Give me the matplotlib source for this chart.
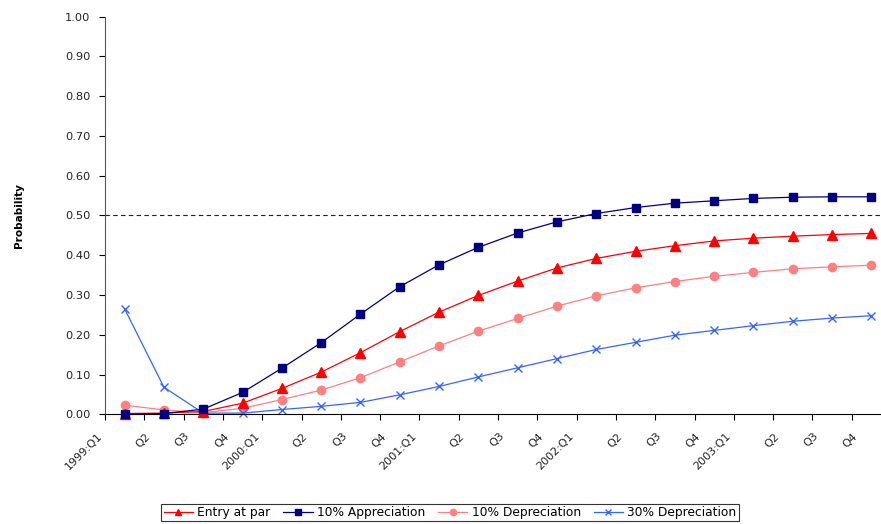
import matplotlib
matplotlib.use('Agg')
import matplotlib.pyplot as plt
from matplotlib.ticker import FormatStrFormatter
from matplotlib.transforms import ScaledTranslation

plt.rcParams['font.family'] = ['DejaVu Sans']

quarters = ['1999:Q1', 'Q2', 'Q3', 'Q4',
            '2000:Q1', 'Q2', 'Q3', 'Q4',
            '2001:Q1', 'Q2', 'Q3', 'Q4',
            '2002:Q1', 'Q2', 'Q3', 'Q4',
            '2003:Q1', 'Q2', 'Q3', 'Q4']

entry_par = [0.002, 0.003, 0.007, 0.028, 0.065, 0.106, 0.155, 0.208, 0.257, 0.299,
             0.335, 0.368, 0.392, 0.410, 0.424, 0.436, 0.443, 0.448, 0.452, 0.455]
apprec_10 = [0.000, 0.002, 0.013, 0.055, 0.116, 0.180, 0.252, 0.321, 0.376, 0.420,
             0.456, 0.484, 0.505, 0.520, 0.531, 0.537, 0.543, 0.546, 0.547, 0.547]
deprec_10 = [0.023, 0.011, 0.004, 0.015, 0.037, 0.061, 0.092, 0.132, 0.172, 0.209,
             0.241, 0.272, 0.298, 0.318, 0.334, 0.347, 0.357, 0.366, 0.371, 0.375]
deprec_30 = [0.265, 0.068, 0.003, 0.003, 0.012, 0.020, 0.030, 0.049, 0.070, 0.094,
             0.117, 0.140, 0.163, 0.181, 0.199, 0.211, 0.223, 0.234, 0.242, 0.248]

threshold = 0.50

x = list(range(len(quarters)))

fig = plt.figure(figsize=(8.81, 5.24), dpi=100)
# axes runs a bit past the right edge, like the original export
ax = fig.add_axes([105/881, 109.7/524, 786/881, 397.6/524])

ax.axhline(threshold, color='#222222', lw=0.8, ls=(0, (4, 3)), zorder=1)

ax.plot(x, entry_par, color='#FF0000', lw=0.9, marker='^', ms=6.5, clip_on=False,
        label='Entry at par', zorder=3)
ax.plot(x, apprec_10, color='#000080', lw=0.9, marker='s', ms=6, clip_on=False,
        label='10% Appreciation', zorder=4)
ax.plot(x, deprec_10, color='#FF8080', lw=0.9, marker='o', ms=6, clip_on=False,
        label='10% Depreciation', zorder=2)
ax.plot(x, deprec_30, color='#3366FF', lw=0.9, marker='x', ms=6, mew=1,
        clip_on=False, label='30% Depreciation', zorder=2)

ax.set_xlim(-0.5, 19.5)
ax.set_ylim(0, 1)
ax.set_yticks([i / 10 for i in range(11)])
ax.yaxis.set_major_formatter(FormatStrFormatter('%.2f'))

ax.set_xticks([i - 0.5 for i in x])
ax.set_xticklabels(quarters, rotation=45, ha='right', va='top')

for s in ['top', 'right']:
    ax.spines[s].set_visible(False)
ax.spines['left'].set_color('#555555')
ax.spines['bottom'].set_color('black')

ax.tick_params(axis='y', direction='out', length=4, width=0.8, pad=6.5,
               labelsize=8.2, labelcolor='#222222')
ax.tick_params(axis='x', direction='out', length=4, width=0.8, pad=8,
               labelsize=8, labelcolor='#222222')

for lab, txt in zip(ax.get_xticklabels(), quarters):
    dx = -1 if ':' in txt else 8
    lab.set_transform(lab.get_transform() +
                      ScaledTranslation(dx / 100, 0, fig.dpi_scale_trans))

ax.set_ylabel('Probability', fontsize=7.6, fontweight='bold')
ax.yaxis.set_label_coords(-81/786, 0.5)

leg = fig.legend(loc='center', bbox_to_anchor=(450/881, 1 - 512.5/524), ncol=4,
                 fontsize=8.8, frameon=True, fancybox=False, edgecolor='black',
                 handlelength=2.4, handletextpad=0.35, columnspacing=1.05,
                 borderpad=0.2, markerscale=0.75)
leg.get_frame().set_linewidth(0.8)

fig.savefig('out.png', dpi=100)
